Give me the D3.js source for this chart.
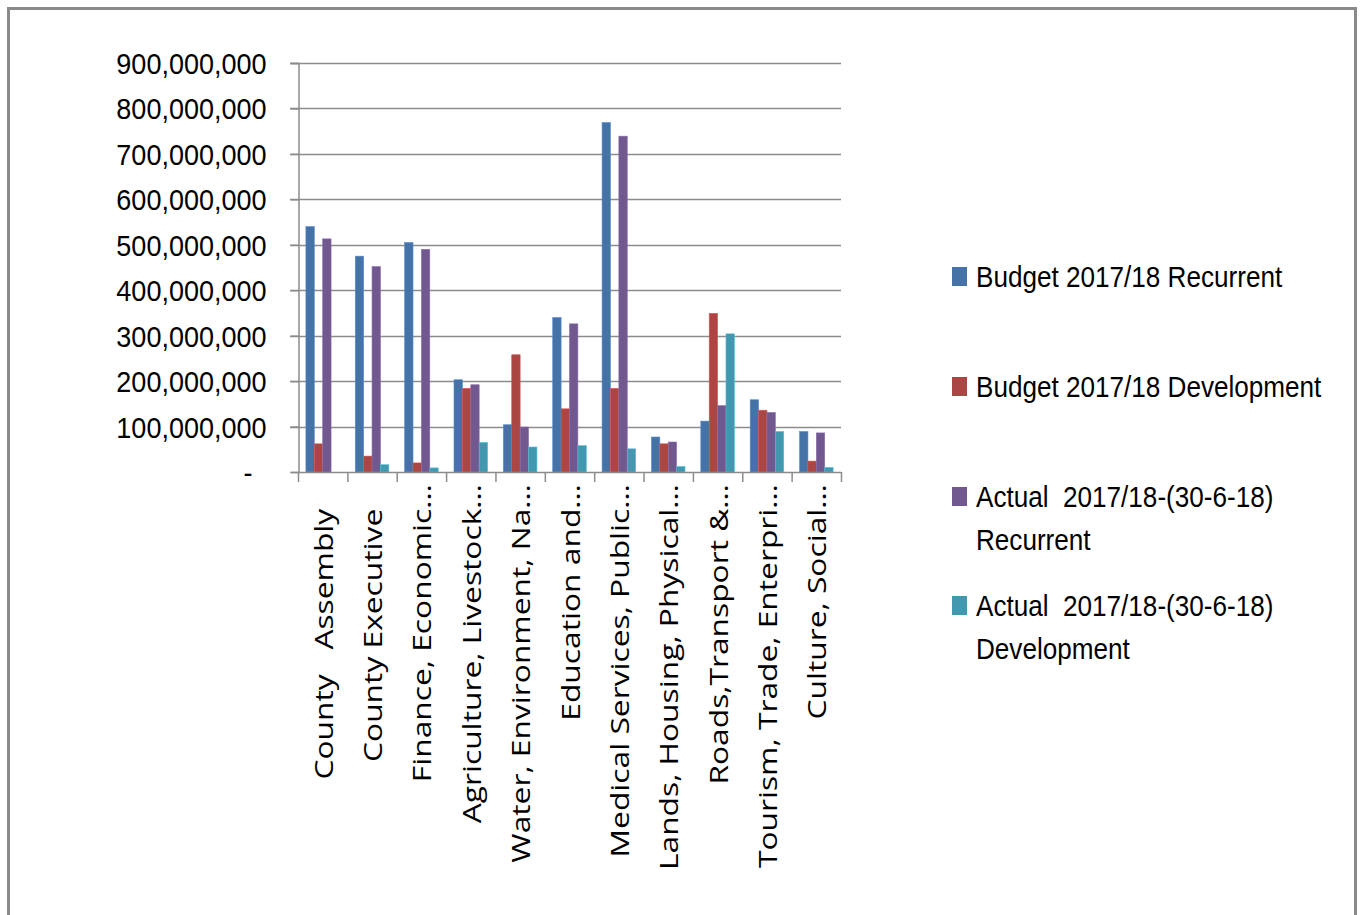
<!DOCTYPE html>
<html>
<head>
<meta charset="utf-8">
<script src="https://cdn.jsdelivr.net/npm/d3@7/dist/d3.min.js"></script>
<style>
  html, body { margin: 0; padding: 0; background: #fff; }
  svg { display: block; }
</style>
</head>
<body>
<svg id="chart" width="1363" height="915"></svg>
<script>
const categories = [
  "County   Assembly   ",
  "County Executive   ",
  "Finance, Economic…",
  "Agriculture, Livestock…",
  "Water, Environment, Na…",
  "Education and…",
  "Medical Services, Public…",
  "Lands, Housing, Physical…",
  "Roads,Transport &…",
  "Tourism, Trade, Enterpri…",
  "Culture, Social…"
];
const seriesNames = [
  ["Budget 2017/18 Recurrent"],
  ["Budget 2017/18 Development"],
  ["Actual  2017/18-(30-6-18)", "Recurrent"],
  ["Actual  2017/18-(30-6-18)", "Development"]
];
const budgetRecurrent   = [540e6, 475e6, 505e6, 203e6, 104e6, 340e6, 769e6, 77e6, 112e6, 159e6, 89e6];
const budgetDevelopment = [62e6, 35e6, 20e6, 184e6, 258e6, 139e6, 184e6, 62e6, 349e6, 136e6, 24e6];
const actualRecurrent   = [513e6, 452e6, 490e6, 192e6, 99e6, 326e6, 739e6, 66e6, 146e6, 131e6, 86e6];
const actualDevelopment = [0, 16e6, 9e6, 65e6, 55e6, 58e6, 51e6, 12e6, 304e6, 89e6, 10e6];
const yTicks = [0, 100e6, 200e6, 300e6, 400e6, 500e6, 600e6, 700e6, 800e6, 900e6];
const colors = ["#4572A7", "#AA4643", "#71588F", "#4198AF"];

const series = [budgetRecurrent, budgetDevelopment, actualRecurrent, actualDevelopment];

const svg = d3.select("#chart");
const labelFont = "'Liberation Sans', Arial, sans-serif";

function condense(sel, factor) {
  sel.each(function () {
    const len = this.getComputedTextLength();
    if (len > 0) {
      d3.select(this).attr("textLength", len * factor).attr("lengthAdjust", "spacingAndGlyphs");
    }
  });
}

// outer frame
svg.append("rect")
  .attr("x", 8.5).attr("y", 8.5)
  .attr("width", 1347).attr("height", 920)
  .attr("fill", "none").attr("stroke", "#8a8a8a").attr("stroke-width", 3);

const plotLeft = 298, plotRight = 841, plotTop = 63, plotBottom = 472;

const x0 = d3.scaleBand().domain(d3.range(categories.length))
  .range([plotLeft, plotRight]).paddingInner(0.32).paddingOuter(0.16);
const x1 = d3.scaleBand().domain(d3.range(series.length)).range([0, x0.bandwidth()]);
const y = d3.scaleLinear().domain([0, 900e6]).range([plotBottom, plotTop]);

// gridlines
svg.append("g").selectAll("line").data(yTicks.filter(d => d > 0)).join("line")
  .attr("x1", plotLeft - 8).attr("x2", plotRight)
  .attr("y1", d => Math.round(y(d)) + 0.5).attr("y2", d => Math.round(y(d)) + 0.5)
  .attr("stroke", "#8c8c8c").attr("stroke-width", 1.5);

// y axis
const yAxis = d3.axisLeft(y).tickValues(yTicks).tickSize(8).tickPadding(24)
  .tickFormat(d => d === 0 ? "-" : d3.format(",")(d));
const gy = svg.append("g").attr("transform", `translate(${plotLeft + 0.5},0)`).call(yAxis);
gy.select(".domain").attr("stroke", "#8c8c8c").attr("stroke-width", 1.5);
gy.selectAll(".tick line").attr("stroke", "#8c8c8c").attr("stroke-width", 1.5);
gy.selectAll(".tick text")
  .attr("font-family", labelFont).attr("font-size", 30).attr("fill", "#000")
  .attr("dy", "0.35em")
  .attr("dx", d => d === 0 ? -14 : 0)
  .call(condense, 0.9);

// bars
const groups = svg.append("g").selectAll("g").data(categories).join("g")
  .attr("transform", (d, i) => `translate(${x0(i)},0)`);
groups.selectAll("rect").data((d, i) => series.map((s, k) => ({k, v: s[i]}))).join("rect")
  .attr("x", d => x1(d.k)).attr("width", x1.bandwidth())
  .attr("y", d => y(d.v)).attr("height", d => plotBottom - y(d.v))
  .attr("fill", d => colors[d.k])
  .attr("stroke", d => d3.color(colors[d.k]).brighter(0.6)).attr("stroke-width", 0.6);

// x axis
const xTickPos = d3.range(categories.length + 1).map(i => plotLeft + i * x0.step());
svg.append("line").attr("x1", plotLeft).attr("x2", plotRight).attr("y1", plotBottom + 0.5).attr("y2", plotBottom + 0.5)
  .attr("stroke", "#8c8c8c").attr("stroke-width", 1.5);
svg.append("g").selectAll("line").data(xTickPos).join("line")
  .attr("x1", d => d + 0.5).attr("x2", d => d + 0.5)
  .attr("y1", plotBottom).attr("y2", plotBottom + 10)
  .attr("stroke", "#8c8c8c").attr("stroke-width", 1.5);

svg.append("g").selectAll("text").data(categories).join("text")
  .attr("transform", (d, i) => `translate(${x0(i) + x0.bandwidth() / 2 + 10},484) rotate(-90) scale(1.27,1)`)
  .attr("text-anchor", "end")
  .attr("font-family", "'Open Sans', 'Noto Sans', sans-serif")
  .attr("font-size", 25)
  .attr("fill", "#000")
  .style("white-space", "pre")
  .text(d => d);

// legend
const legendY = [277, 387, 497, 606];
const leg = svg.append("g").selectAll("g").data(seriesNames).join("g")
  .attr("transform", (d, i) => `translate(952,${legendY[i]})`);
leg.append("rect").attr("x", 0).attr("y", -10).attr("width", 15).attr("height", 19)
  .attr("fill", (d, i) => colors[i]);
leg.append("text")
  .attr("font-family", labelFont).attr("font-size", 29).attr("fill", "#000")
  .selectAll("tspan").data(d => d).join("tspan")
  .attr("x", 24).attr("y", (d, j) => j * 43)
  .attr("dy", "0.35em")
  .style("white-space", "pre")
  .text(d => d)
  .call(condense, 0.9);
</script>
</body>
</html>
